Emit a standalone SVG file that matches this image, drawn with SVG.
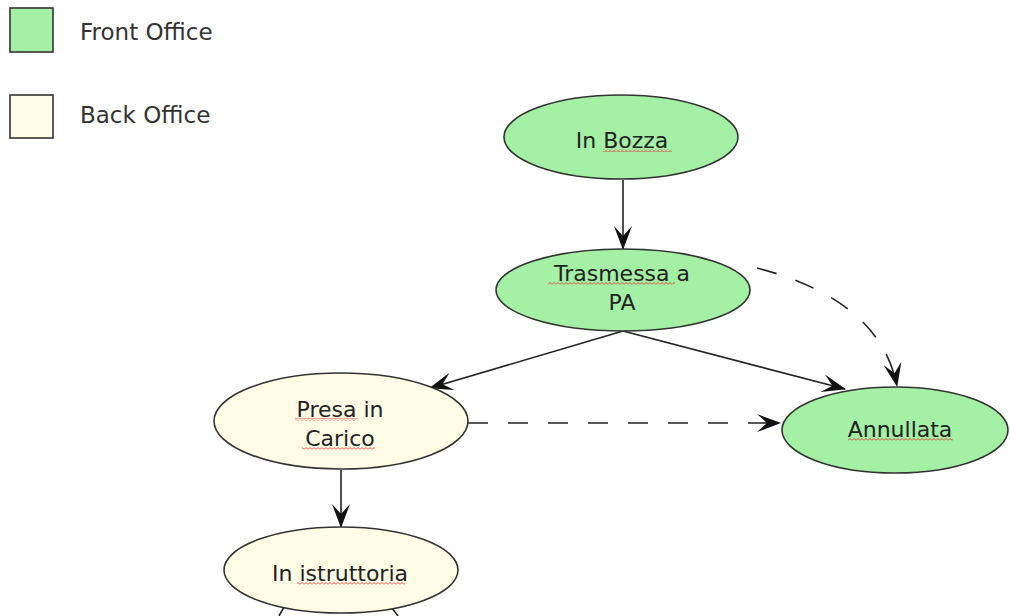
<svg xmlns="http://www.w3.org/2000/svg" width="1010" height="616" viewBox="0 0 1010 616">
<style>
.front{fill:#a4f0a4;stroke:#333;stroke-width:1.6}
.back{fill:#fffde6;stroke:#333;stroke-width:1.6}
.lbl{font-family:"DejaVu Sans",sans-serif;font-size:22px;fill:#222;text-anchor:middle}
.leg{font-family:"DejaVu Sans",sans-serif;font-size:23px;fill:#333}
.edge{fill:none;stroke:#222;stroke-width:1.6}
.dash{stroke-dasharray:20 20}
.sq{fill:url(#squig)}
</style>
<defs>
<marker id="arr" viewBox="0 0 24 20" refX="23" refY="10" markerWidth="24" markerHeight="20" markerUnits="userSpaceOnUse" orient="auto">
<path d="M0,1 L24,10 L0,19 L10,10 Z" fill="#111"/>
</marker>
<pattern id="squig" width="4" height="3" patternUnits="userSpaceOnUse">
<path d="M0,2.5 L2,0.5 L4,2.5" fill="none" stroke="#e03030" stroke-width="0.9"/>
</pattern>
</defs>
<rect width="1010" height="616" fill="#fff"/>
<g id="legend">
<rect x="10" y="8" width="43" height="44" class="front"/>
<text x="80" y="40" class="leg">Front Office</text>
<rect x="10" y="95" width="43" height="43" class="back"/>
<text x="80" y="123" class="leg">Back Office</text>
</g>
<g id="connectors">
<path class="edge" d="M623,180 L623,249" marker-end="url(#arr)"/>
<path class="edge" d="M623,331 L430,388" marker-end="url(#arr)"/>
<path class="edge" d="M623,331 L845,389" marker-end="url(#arr)"/>
<path class="edge dash" d="M757,268 Q880,300 897,386" marker-end="url(#arr)"/>
<path class="edge dash" d="M468,423 L780,423" marker-end="url(#arr)"/>
<path class="edge" d="M341,470 L341,527" marker-end="url(#arr)"/>
<path class="edge" d="M284,607 L279,616"/>
<path class="edge" d="M392,608 L398,616"/>
</g>
<g id="in-bozza">
<ellipse cx="621" cy="137" rx="117" ry="42" class="front"/>
<text x="622" y="148" class="lbl">In Bozza</text>
<rect x="603" y="149" width="69" height="3" class="sq"/>
</g>
<g id="trasmessa">
<ellipse cx="623" cy="290" rx="127" ry="41" class="front"/>
<text x="622" y="281" class="lbl">Trasmessa a</text>
<text x="622" y="310" class="lbl">PA</text>
<rect x="548" y="282" width="127" height="3" class="sq"/>
</g>
<g id="presa">
<ellipse cx="341" cy="421" rx="127" ry="48" class="back"/>
<text x="340" y="417" class="lbl">Presa in</text>
<text x="340" y="446" class="lbl">Carico</text>
<rect x="295" y="418" width="63" height="3" class="sq"/>
<rect x="302" y="447" width="73" height="3" class="sq"/>
</g>
<g id="annullata">
<ellipse cx="895" cy="430" rx="113" ry="43" class="front"/>
<text x="900" y="437" class="lbl">Annullata</text>
<rect x="848" y="438" width="105" height="3" class="sq"/>
</g>
<g id="istruttoria">
<ellipse cx="341" cy="570" rx="117" ry="43" class="back"/>
<text x="340" y="581" class="lbl">In istruttoria</text>
<rect x="297" y="582" width="108" height="3" class="sq"/>
</g>
</svg>
